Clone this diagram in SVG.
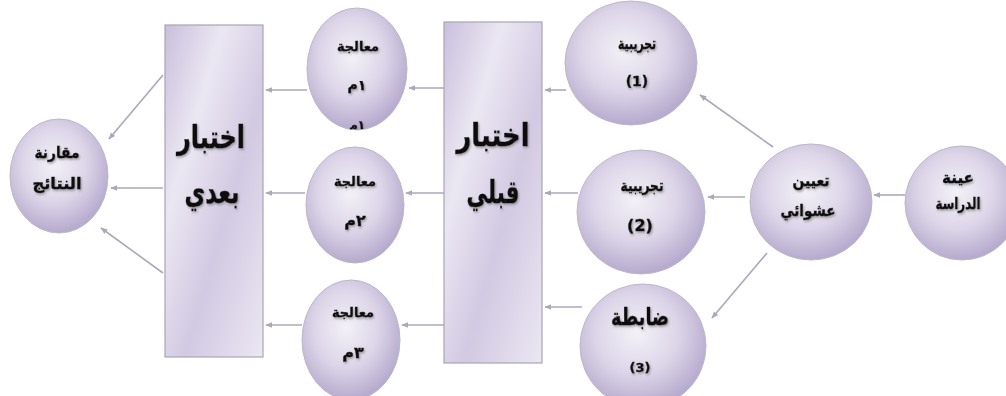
<svg xmlns="http://www.w3.org/2000/svg" width="1006" height="396" viewBox="0 0 1006 396">
<defs>
<radialGradient id="gC" cx="45%" cy="40%" r="60%">
<stop offset="0" stop-color="#f3f1f7"/>
<stop offset="0.55" stop-color="#dcd5e8"/>
<stop offset="1" stop-color="#b6aacd"/>
</radialGradient>
<linearGradient id="gR" x1="0" y1="0" x2="1" y2="1">
<stop offset="0" stop-color="#c9bfdd"/>
<stop offset="0.3" stop-color="#ebe7f2"/>
<stop offset="0.6" stop-color="#d2c9e2"/>
<stop offset="1" stop-color="#ebe7f2"/>
</linearGradient>
<filter id="sh" x="-20%" y="-20%" width="140%" height="140%">
<feDropShadow dx="1" dy="1.5" stdDeviation="0.8" flood-color="#777" flood-opacity="0.7"/>
</filter>
<marker id="ah" viewBox="0 0 10 10" refX="9" refY="5" markerWidth="7" markerHeight="7" orient="auto" markerUnits="userSpaceOnUse">
<path d="M0,1 L10,5 L0,9 Z" fill="#a9a9bb"/>
</marker>
<clipPath id="clip1"><ellipse cx="357" cy="69" rx="50" ry="61"/></clipPath>
</defs>
<style>
.c{fill:url(#gC);stroke:#bdb8c8;stroke-width:1}
.r{fill:url(#gR);stroke:#a9a5b3;stroke-width:1.2}
.t{font-family:"DejaVu Sans",sans-serif;font-weight:bold;fill:#111;stroke:#111;stroke-width:0.4;text-anchor:middle;filter:url(#sh)}
.d{direction:ltr;unicode-bidi:bidi-override}
.cn line{stroke:#a9a9bb;stroke-width:1.6;marker-end:url(#ah)}
</style>
<rect width="1006" height="396" fill="#fff"/>

<g class="cn" id="connectors">
<line x1="905" y1="195" x2="874" y2="195"/>
<line x1="773" y1="147" x2="700" y2="95"/>
<line x1="745" y1="197" x2="708" y2="197"/>
<line x1="767" y1="253" x2="712" y2="318"/>
<line x1="566" y1="90" x2="545" y2="90"/>
<line x1="578" y1="193" x2="545" y2="193"/>
<line x1="582" y1="307" x2="545" y2="307"/>
<line x1="444" y1="88" x2="409" y2="88"/>
<line x1="444" y1="193" x2="406" y2="193"/>
<line x1="444" y1="325" x2="402" y2="325"/>
<line x1="307" y1="90" x2="266" y2="90"/>
<line x1="305" y1="193" x2="266" y2="193"/>
<line x1="302" y1="325" x2="266" y2="325"/>
<line x1="163" y1="75" x2="109" y2="139"/>
<line x1="163" y1="188" x2="111" y2="188"/>
<line x1="163" y1="273" x2="101" y2="228"/>
</g>

<g id="sample">
<ellipse class="c" cx="962" cy="203" rx="57" ry="57"/>
<text class="t" x="958" y="183" font-size="16" textLength="32" lengthAdjust="spacingAndGlyphs">عينة</text>
<text class="t" x="958" y="209" font-size="16" textLength="45" lengthAdjust="spacingAndGlyphs">الدراسة</text>
</g>

<g id="random">
<ellipse class="c" cx="811" cy="202" rx="61" ry="58"/>
<text class="t" x="811" y="186" font-size="16" textLength="37" lengthAdjust="spacingAndGlyphs">تعيين</text>
<text class="t" x="808" y="216" font-size="16" textLength="55" lengthAdjust="spacingAndGlyphs">عشوائي</text>
</g>

<g id="exp1">
<ellipse class="c" cx="631" cy="63" rx="66" ry="62"/>
<text class="t" x="637" y="49" font-size="16" textLength="38" lengthAdjust="spacingAndGlyphs">تجريبية</text>
<text class="t" x="637" y="86" font-size="14">(1)</text>
</g>

<g id="exp2">
<ellipse class="c" cx="641" cy="212" rx="64" ry="62"/>
<text class="t" x="642" y="191" font-size="16" textLength="43" lengthAdjust="spacingAndGlyphs">تجريبية</text>
<text class="t" x="640" y="231" font-size="16">(2)</text>
</g>

<g id="control">
<ellipse class="c" cx="643" cy="346" rx="63" ry="62"/>
<text class="t" x="640" y="325" font-size="24" textLength="58" lengthAdjust="spacingAndGlyphs">ضابطة</text>
<text class="t" x="640" y="372" font-size="13">(3)</text>
</g>

<g id="pretest">
<rect class="r" x="444" y="22" width="98" height="341"/>
<text class="t" x="493" y="146" font-size="32" textLength="73" lengthAdjust="spacingAndGlyphs">اختبار</text>
<text class="t" x="493" y="203" font-size="32" textLength="53" lengthAdjust="spacingAndGlyphs">قبلي</text>
</g>

<g id="treat1">
<ellipse class="c" cx="357" cy="69" rx="50" ry="61"/>
<text class="t" x="358" y="51" font-size="13" textLength="42" lengthAdjust="spacingAndGlyphs">معالجة</text>
<text class="t d" x="357" y="90" font-size="14">م١</text>
<g clip-path="url(#clip1)"><text class="t d" x="357" y="129" font-size="12">م١</text></g>
</g>

<g id="treat2">
<ellipse class="c" cx="355" cy="205" rx="49" ry="58"/>
<text class="t" x="355" y="186" font-size="13" textLength="42" lengthAdjust="spacingAndGlyphs">معالجة</text>
<text class="t d" x="355" y="226" font-size="16">م٢</text>
</g>

<g id="treat3">
<ellipse class="c" cx="351" cy="340" rx="49" ry="60"/>
<text class="t" x="353" y="317" font-size="13" textLength="42" lengthAdjust="spacingAndGlyphs">معالجة</text>
<text class="t d" x="353" y="358" font-size="16">م٣</text>
</g>

<g id="posttest">
<rect class="r" x="165" y="25" width="98" height="332"/>
<text class="t" x="211" y="148" font-size="32" textLength="68" lengthAdjust="spacingAndGlyphs">اختبار</text>
<text class="t" x="212" y="203" font-size="32" textLength="55" lengthAdjust="spacingAndGlyphs">بعدي</text>
</g>

<g id="compare">
<ellipse class="c" cx="59" cy="176" rx="49" ry="57"/>
<text class="t" x="57" y="158" font-size="16" textLength="45" lengthAdjust="spacingAndGlyphs">مقارنة</text>
<text class="t" x="57" y="189" font-size="16" textLength="49" lengthAdjust="spacingAndGlyphs">النتائج</text>
</g>
</svg>
